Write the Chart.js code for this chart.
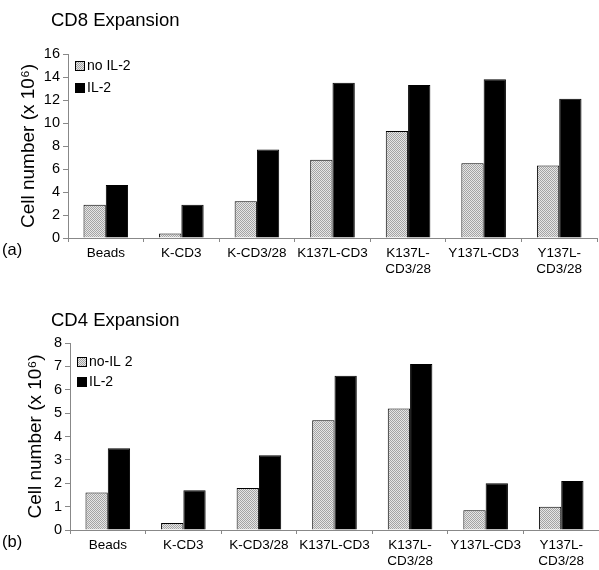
<!DOCTYPE html>
<html>
<head>
<meta charset="utf-8">
<script src="https://cdn.jsdelivr.net/npm/chart.js@4/dist/chart.umd.min.js"></script>
<style>
  body { margin: 0; background: #fff; }
  .panel { position: relative; width: 599px; }
</style>
</head>
<body>
<div class="panel"><canvas id="cd8Chart" width="599" height="292"></canvas></div>
<div class="panel"><canvas id="cd4Chart" width="599" height="278"></canvas></div>
<script>
// Sample data
const categories = ['Beads', 'K-CD3', 'K-CD3/28', 'K137L-CD3', ['K137L-', 'CD3/28'], 'Y137L-CD3', ['Y137L-', 'CD3/28']];
const cd8NoIL2 = [2.9, 0.4, 3.2, 6.8, 9.3, 6.5, 6.3];
const cd8IL2 = [4.6, 2.9, 7.7, 13.5, 13.3, 13.8, 12.1];
const cd4NoIL2 = [1.6, 0.3, 1.8, 4.7, 5.2, 0.85, 1.0];
const cd4IL2 = [3.5, 1.7, 3.2, 6.6, 7.1, 2.0, 2.1];
const cd8Axis = { max: 16, step: 2 };
const cd4Axis = { max: 8, step: 1 };

const FONT = '"Liberation Sans", Arial, sans-serif';
const AXIS_GREY = '#888';

// grey stippled fill like the original print
function stipple() {
    const c = document.createElement('canvas');
    c.width = 2; c.height = 2;
    const g = c.getContext('2d');
    g.fillStyle = '#e6e6e6';
    g.fillRect(0, 0, 2, 2);
    g.fillStyle = '#a4a4a4';
    g.fillRect(0, 0, 1, 1);
    g.fillRect(1, 1, 1, 1);
    return g.createPattern(c, 'repeat');
}

// title, legend inside the plot and the (a)/(b) letter
const panelExtras = {
    id: 'panelExtras',
    afterDraw(chart, args, opts) {
        const ctx = chart.ctx;
        const area = chart.chartArea;
        ctx.save();
        ctx.fillStyle = '#000';
        ctx.textBaseline = 'middle';
        ctx.font = '18.5px ' + FONT;
        ctx.fillText(opts.title, 51, opts.titleY);

        ctx.font = '14px ' + FONT;
        chart.data.datasets.forEach((ds, i) => {
            const y = area.top + opts.legendTop + i * opts.legendGap;
            const x = area.left + 7;
            ctx.fillStyle = ds.backgroundColor;
            ctx.fillRect(x, y - 5, 10, 10);
            ctx.strokeStyle = '#000';
            ctx.lineWidth = 1;
            ctx.strokeRect(x + 0.5, y - 4.5, 9, 9);
            ctx.fillStyle = '#000';
            ctx.fillText(ds.label, x + 12, y);
        });

        ctx.font = '16.5px ' + FONT;
        ctx.fillText(opts.letter, 2, area.bottom + opts.letterDy);
        ctx.restore();
    }
};

function makeConfig(noVals, ilVals, noLabel, axis, extras, pad, axisWidth) {
    return {
        type: 'bar',
        data: {
            labels: categories,
            datasets: [{
                label: noLabel,
                data: noVals,
                backgroundColor: stipple(),
                borderColor: '#000',
                borderWidth: 1,
                categoryPercentage: 0.59,
                barPercentage: 1.0
            }, {
                label: 'IL-2',
                data: ilVals,
                backgroundColor: '#000',
                borderColor: '#000',
                borderWidth: 1,
                categoryPercentage: 0.59,
                barPercentage: 1.0
            }]
        },
        options: {
            responsive: false,
            animation: false,
            layout: { padding: pad },
            plugins: {
                legend: { display: false },
                tooltip: { enabled: false },
                panelExtras: extras
            },
            scales: {
                x: {
                    afterFit(scale) { scale.height = 40; },
                    grid: { drawOnChartArea: false, color: AXIS_GREY, tickLength: 4, offset: true },
                    border: { color: AXIS_GREY },
                    ticks: { color: '#000', font: { family: FONT, size: 13.5 }, maxRotation: 0, autoSkip: false, padding: 3 }
                },
                y: {
                    min: 0,
                    max: axis.max,
                    afterFit(scale) { scale.width = axisWidth; },
                    grid: { drawOnChartArea: false, color: AXIS_GREY, tickLength: 5 },
                    border: { color: AXIS_GREY },
                    ticks: { stepSize: axis.step, color: '#000', font: { family: FONT, size: 14.5 }, padding: 3 },
                    title: {
                        display: true,
                        text: 'Cell number (x 10\u2076)',
                        color: '#000',
                        font: { family: FONT, size: 19 },
                        padding: { top: 4, bottom: 4 }
                    }
                }
            }
        },
        plugins: [panelExtras]
    };
}

// Initialize the charts
var cd8Chart = new Chart(document.getElementById('cd8Chart'),
    makeConfig(cd8NoIL2, cd8IL2, 'no IL-2', cd8Axis,
        { title: 'CD8 Expansion', titleY: 21, legendTop: 12, legendGap: 22, letter: '(a)', letterDy: 12 },
        { top: 54, bottom: 14, left: 13, right: 2 }, 55));

var cd4Chart = new Chart(document.getElementById('cd4Chart'),
    makeConfig(cd4NoIL2, cd4IL2, 'no-IL 2', cd4Axis,
        { title: 'CD4 Expansion', titleY: 29, legendTop: 19, legendGap: 20, letter: '(b)', letterDy: 12 },
        { top: 51, bottom: 0, left: 20, right: 0 }, 50));
</script>
</body>
</html>
